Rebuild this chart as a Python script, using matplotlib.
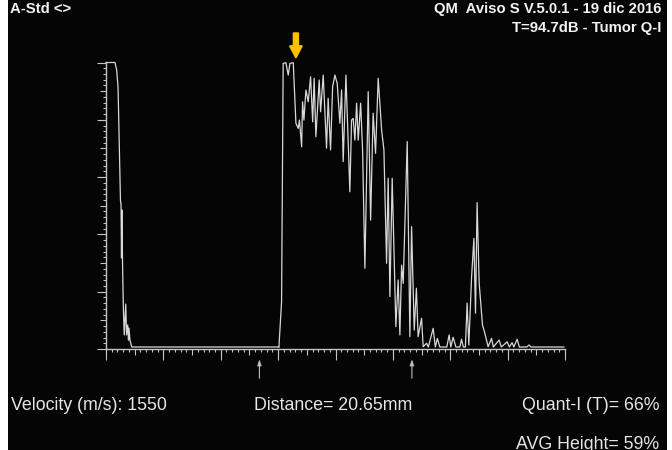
import numpy as np
import matplotlib
matplotlib.use("Agg")
import matplotlib.pyplot as plt
from matplotlib.patches import Rectangle

# ---- data (distance units on x, amplitude % on y) ----
echo1_x = [0, 0.78, 0.93, 1.05, 1.26, 1.31, 1.35, 1.39, 1.44, 1.51, 1.59, 1.72, 1.79, 1.89, 1.96, 2.00, 2.09, 2.24, 15.07]
echo1_y = [100, 100, 97.4, 91.4, 52.0, 50.3, 31.8, 48.5, 30.4, 14.7, 4.9, 15.7, 4.9, 8.4, 3.1, 7.3, 3.1, 0.7, 0.7]

tumor_x = [15.07, 15.30, 15.44, 15.68, 15.88, 16.03, 16.32, 16.55, 16.75, 16.86, 17.05, 17.13, 17.25, 17.42,
           17.62, 17.83, 18.01, 18.14, 18.29, 18.58, 18.70, 18.93, 19.22, 19.36, 19.57, 19.75, 19.95, 20.15,
           20.38, 20.53, 20.67, 20.91, 21.25, 21.40, 21.54, 21.69, 21.84, 21.98, 22.19, 22.36, 22.56, 22.85,
           23.06, 23.28, 23.49, 23.72, 24.02, 24.22, 24.45, 24.59, 24.74, 24.94, 25.26, 25.46, 25.61, 25.76,
           25.90, 26.25, 26.48, 26.63, 26.86, 27.05, 27.20, 27.50, 27.64, 27.94, 28.09, 28.51, 28.70, 28.88,
           29.09, 29.70, 29.90, 30.05, 30.25, 30.49, 30.84, 30.98, 31.14, 31.32, 31.47, 31.62, 31.86, 32.06,
           32.20, 32.34, 32.52, 32.81, 33.01, 33.30, 33.60, 33.75, 34.26, 34.45, 34.96, 35.15, 35.39, 35.54,
           35.83, 36.02, 36.67, 36.87, 37.02, 39.90]
tumor_y = [0.7, 16.4, 99.7, 99.9, 95.6, 99.7, 99.9, 78.8, 77.0, 79.9, 70.6, 86.3, 79.9, 90.4,
           86.3, 95.0, 79.3, 94.5, 74.1, 93.9, 82.8, 95.6, 70.1, 87.5, 69.5, 91.6, 95.6, 92.7,
           78.8, 90.4, 65.4, 95.6, 54.9, 79.9, 80.5, 72.9, 85.8, 72.9, 85.8, 69.5, 28.2, 89.8,
           45.0, 82.3, 68.3, 94.5, 76.4, 69.5, 29.9, 59.6, 18.3, 59.6, 7.8, 24.1, 4.9, 29.3,
           22.9, 72.4, 4.3, 42.7, 6.6, 21.2, 4.3, 10.7, 0.8, 2.0, 0.7, 7.2, 0.7, 3.7,
           0.7, 0.7, 4.9, 0.7, 4.1, 0.7, 0.7, 3.4, 0.7, 0.7, 16.0, 1.4, 25.2, 38.6,
           12.5, 51.1, 22.9, 8.4, 5.6, 0.8, 3.7, 0.7, 3.1, 0.7, 2.5, 0.7, 2.2, 0.7,
           3.4, 0.7, 0.7, 1.4, 0.7, 0.7]

gate_marks = [13.37, 26.66]
peak_marker_x = 16.55

# ---- figure ----
W, H = 672, 450
plt.rcParams["font.family"] = ["Liberation Sans", "DejaVu Sans"]
fig = plt.figure(figsize=(W / 100, H / 100), dpi=100, facecolor="white")

# black screen area
bg = fig.add_axes([8 / W, 0, (667 - 8) / W, 1], zorder=-5)
bg.set_facecolor("#050505")
bg.set_xticks([]); bg.set_yticks([])
for s in bg.spines.values():
    s.set_visible(False)

ax = fig.add_axes([106 / W, (H - 349) / H, (565 - 106) / W, (349 - 62.5) / H], zorder=1)
ax.set_facecolor("none")
ax.set_xlim(0, 40)
ax.set_ylim(0, 100)

axc = "#c4c4c4"
sigc = "#d8d8d8"

# signal
ax.plot(echo1_x, echo1_y, color=sigc, lw=0.9, clip_on=False)
ax.plot(tumor_x, tumor_y, color=sigc, lw=0.9, clip_on=False)

for s in ["top", "right"]:
    ax.spines[s].set_visible(False)
for s in ["left", "bottom"]:
    ax.spines[s].set_color(axc)
    ax.spines[s].set_linewidth(1.0)

# medium + minor ticks
ax.set_xticks(np.arange(0, 40.01, 2.5))
ax.set_xticks(np.arange(0, 40.01, 0.5), minor=True)
ax.set_yticks(np.arange(0, 100.01, 10))
ax.set_yticks(np.arange(0, 100.01, 2), minor=True)
ax.tick_params(which="major", length=4.3, width=0.8, color=axc, labelbottom=False, labelleft=False)
ax.tick_params(which="minor", length=2.3, width=0.8, color=axc)

# long ticks via secondary axes
secx = ax.secondary_xaxis("bottom")
secx.set_xticks(np.arange(0, 40.01, 5))
secx.tick_params(length=8, width=0.8, color=axc, labelbottom=False)
secx.spines["bottom"].set_visible(False)
secy = ax.secondary_yaxis("left")
secy.set_yticks(np.arange(0, 100.01, 20))
secy.tick_params(length=6.8, width=0.8, color=axc, labelleft=False)
secy.spines["left"].set_visible(False)

# gate arrows below the axis
for gx in gate_marks:
    ax.annotate("", xy=(gx, -0.036), xytext=(gx, -0.102),
                xycoords=("data", "axes fraction"), textcoords=("data", "axes fraction"),
                arrowprops=dict(arrowstyle="-|>,head_length=0.35,head_width=0.12",
                                color="#bdbdbd", lw=0.8, shrinkA=0, shrinkB=0),
                annotation_clip=False)

# yellow marker arrow
ax.arrow(peak_marker_x, 110.3, 0, -8.7, width=0.44, head_width=1.1, head_length=4.2,
         length_includes_head=True, color="#FFC000", clip_on=False, zorder=5)

# texts
tc = "#f2f2f2"
fig.text(10 / W, 1 - 9 / H, "A-Std <>", color=tc, fontsize=10.7, fontweight="bold",
         ha="left", va="center")
fig.text(661 / W, 1 - 9 / H, "QM  Aviso S V.5.0.1 - 19 dic 2016", color=tc, fontsize=10.7,
         fontweight="bold", ha="right", va="center")
fig.text(661 / W, 1 - 28 / H, "T=94.7dB - Tumor Q-I", color=tc, fontsize=10.7,
         fontweight="bold", ha="right", va="center")

bc = "#e6e6e6"
fig.text(11 / W, 1 - 405 / H, "Velocity (m/s): 1550", color=bc, fontsize=12.8, ha="left", va="center")
fig.text(254 / W, 1 - 405 / H, "Distance= 20.65mm", color=bc, fontsize=12.8, ha="left", va="center")
fig.text(659 / W, 1 - 405 / H, "Quant-I (T)= 66%", color=bc, fontsize=12.8, ha="right", va="center")
fig.text(659 / W, 1 - 436 / H, "AVG Height= 59%", color=bc, fontsize=12.8, ha="right", va="top")

fig.savefig("out.png", dpi=100, facecolor="white")
